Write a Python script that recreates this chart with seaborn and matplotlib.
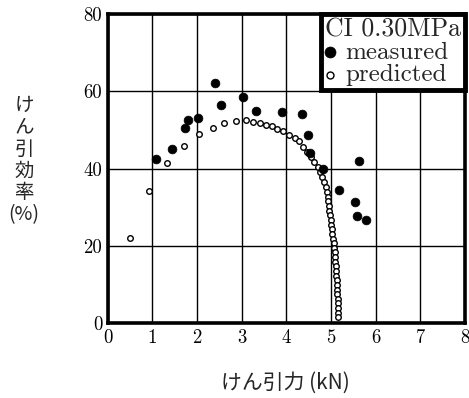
import matplotlib
matplotlib.use("Agg")
import matplotlib.pyplot as plt
import seaborn as sns
import pandas as pd

# measured (filled) points
meas_x = [1.09, 1.43, 1.73, 1.79, 2.03, 2.41, 2.54, 3.03, 3.33, 3.90, 4.35, 4.49,
          4.54, 4.83, 5.62, 5.19, 5.54, 5.59, 5.79]
meas_y = [42.5, 45.1, 50.4, 52.6, 53.0, 62.1, 56.4, 58.4, 54.9, 54.7, 54.1, 48.8,
          44.0, 39.8, 42.0, 34.4, 31.4, 27.8, 26.6]

# predicted (open) points
pred_x = [0.49, 0.92, 1.32, 1.70, 2.04, 2.35, 2.61, 2.87, 3.09, 3.26, 3.41, 3.54,
          3.67, 3.80, 3.93, 4.07, 4.19, 4.29, 4.38, 4.47, 4.55, 4.63, 4.70, 4.75,
          4.80, 4.85, 4.89, 4.91, 4.93, 4.94, 4.95, 4.96, 4.98, 5.00, 5.01, 5.02,
          5.03, 5.05, 5.06, 5.07, 5.08, 5.09, 5.10, 5.11, 5.11, 5.12, 5.13, 5.13,
          5.14, 5.14, 5.15, 5.15, 5.16, 5.16, 5.16]
pred_y = [22.0, 34.3, 41.5, 45.9, 48.9, 50.4, 51.7, 52.3, 52.5, 52.1, 51.7, 51.3,
          50.9, 50.3, 49.6, 48.7, 48.0, 47.0, 45.6, 44.4, 43.1, 41.8, 40.5, 39.2,
          37.9, 36.6, 35.3, 34.0, 32.7, 31.5, 30.3, 29.1, 27.9, 26.7, 25.5, 24.3,
          23.1, 21.9, 20.7, 19.5, 18.3, 17.1, 15.9, 14.7, 13.5, 12.3, 11.1, 9.9,
          8.7, 7.5, 6.3, 5.1, 3.9, 2.7, 1.5]

x_ticks = [0, 1, 2, 3, 4, 5, 6, 7, 8]
y_ticks = [0, 20, 40, 60, 80]

legend_title = "CI 0.30MPa"
xlabel = "けん引力 (kN)"
ylabel = "け\nん\n引\n効\n率\n(%)"

sns.set_style("white")
plt.rcParams["font.family"] = ["cmr10", "DejaVu Serif"]
plt.rcParams["axes.formatter.use_mathtext"] = True

df_m = pd.DataFrame({"x": meas_x, "y": meas_y})
df_p = pd.DataFrame({"x": pred_x, "y": pred_y})

fig = plt.figure(figsize=(4.69, 3.98), dpi=100)
ax = fig.add_axes([0.230, 0.188, 0.761, 0.777])

sns.scatterplot(data=df_m, x="x", y="y", ax=ax, s=40, color="black",
                edgecolor="black", linewidth=0.5, label="measured", zorder=4)
sns.scatterplot(data=df_p, x="x", y="y", ax=ax, s=16, facecolor="white",
                edgecolor="black", linewidth=1.0, label="predicted", zorder=3)

ax.set_xlim(0, 8)
ax.set_ylim(0, 80)
ax.set_xticks(x_ticks)
ax.set_yticks(y_ticks)
ax.set_xticklabels([str(v) for v in x_ticks])
ax.set_yticklabels([str(v) for v in y_ticks])
ax.tick_params(axis="both", length=0, labelsize=13.5, pad=4, colors="black")
ax.grid(True, color="black", linewidth=1.0)
ax.set_axisbelow(True)
for sp in ax.spines.values():
    sp.set_linewidth(2.6)
    sp.set_color("black")
ax.set_xlabel("")
ax.set_ylabel("")

leg = ax.legend(title=legend_title, loc="upper right", borderaxespad=0.0,
                frameon=True, fancybox=False, fontsize=18, title_fontsize=18.5,
                handlelength=0.35, handletextpad=0.45, borderpad=0.15,
                labelspacing=0.0, markerscale=1.25)
leg.get_frame().set_edgecolor("black")
leg.get_frame().set_linewidth(3.5)
leg.get_frame().set_facecolor("white")
leg.get_frame().set_alpha(1.0)
leg._legend_box.align = "left"
leg._legend_box.sep = 0

fig.text(285 / 469, 1 - 383 / 398, xlabel, ha="center", va="center",
         fontsize=15, family=["Noto Sans CJK JP", "DejaVu Sans"])
fig.text(24 / 469, 1 - 160 / 398, ylabel, ha="center", va="center",
         fontsize=14, linespacing=1.05, family=["Noto Sans CJK JP", "DejaVu Sans"])

fig.savefig("out.png", dpi=100)
